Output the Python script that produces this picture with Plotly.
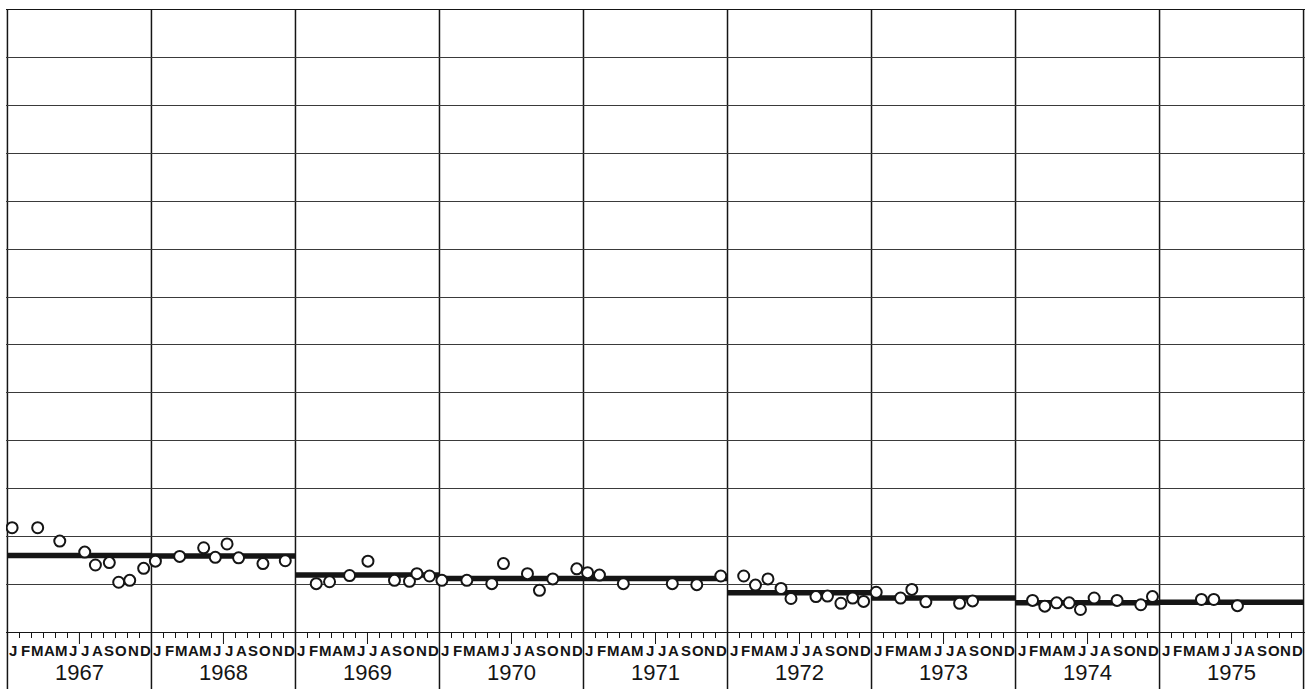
import plotly.graph_objects as go

# ---- data (grid units; each horizontal grid line = 1 unit) ----
years = [1967, 1968, 1969, 1970, 1971, 1972, 1973, 1974, 1975]
month_letters = ["J", "F", "M", "A", "M", "J", "J", "A", "S", "O", "N", "D"]
annual_mean = [1.60, 1.59, 1.19, 1.12, 1.12, 0.82, 0.71, 0.61, 0.62]

# sampling position within the year (in months, 0-12) and observed value
obs_1967_m = [0.39, 2.52, 4.36, 6.44, 7.33, 8.49, 9.27, 10.19, 11.35]
obs_1967_v = [2.18, 2.18, 1.90, 1.67, 1.40, 1.45, 1.04, 1.08, 1.33]
obs_1968_m = [0.33, 2.35, 4.35, 5.32, 6.30, 7.26, 9.29, 11.15]
obs_1968_v = [1.48, 1.58, 1.76, 1.56, 1.84, 1.55, 1.43, 1.49]
obs_1969_m = [1.73, 2.84, 4.51, 6.04, 8.25, 9.50, 10.12, 11.17]
obs_1969_v = [1.01, 1.05, 1.18, 1.48, 1.08, 1.06, 1.22, 1.17]
obs_1970_m = [0.20, 2.28, 4.36, 5.33, 7.33, 8.33, 9.44, 11.44]
obs_1970_v = [1.08, 1.08, 1.01, 1.43, 1.22, 0.87, 1.11, 1.32]
obs_1971_m = [0.34, 1.33, 3.32, 7.40, 9.44, 11.44]
obs_1971_v = [1.24, 1.19, 1.01, 1.01, 0.99, 1.17]
obs_1972_m = [1.35, 2.33, 3.37, 4.46, 5.29, 7.37, 8.33, 9.45, 10.43, 11.34]
obs_1972_v = [1.17, 0.98, 1.11, 0.91, 0.70, 0.74, 0.75, 0.60, 0.71, 0.64]
obs_1973_m = [0.39, 2.42, 3.36, 4.53, 7.34, 8.42]
obs_1973_v = [0.83, 0.71, 0.89, 0.63, 0.60, 0.65]
obs_1974_m = [1.42, 2.44, 3.42, 4.47, 5.41, 6.55, 8.46, 10.44, 11.41]
obs_1974_v = [0.66, 0.54, 0.61, 0.61, 0.47, 0.71, 0.66, 0.57, 0.74]
obs_1975_m = [3.49, 4.52, 6.49]
obs_1975_v = [0.68, 0.68, 0.55]

obs_months = [obs_1967_m, obs_1968_m, obs_1969_m, obs_1970_m, obs_1971_m,
              obs_1972_m, obs_1973_m, obs_1974_m, obs_1975_m]
obs_values = [obs_1967_v, obs_1968_v, obs_1969_v, obs_1970_v, obs_1971_v,
              obs_1972_v, obs_1973_v, obs_1974_v, obs_1975_v]

# ---- build traces ----
px_, py_ = [], []
for yr, ms, vs in zip(years, obs_months, obs_values):
    for m, v in zip(ms, vs):
        px_.append(yr + m / 12.0)
        py_.append(v)

mx, my = [], []
for yr, mv in zip(years, annual_mean):
    mx += [yr, yr + 1, None]
    my += [mv, mv, None]

INK = "#151515"
FONT = "Liberation Sans, Arial, Helvetica, sans-serif"

fig = go.Figure()
fig.add_trace(go.Scatter(x=mx, y=my, mode="lines",
                         line=dict(color=INK, width=5.5), hoverinfo="skip"))
fig.add_trace(go.Scatter(x=px_, y=py_, mode="markers",
                         marker=dict(symbol="circle", size=11, color="white",
                                     line=dict(color=INK, width=2))))

H_PLOT = 622.0
label_gap = 57.0 / H_PLOT

# month boundary ticks (short), excluding year and mid-year boundaries
month_ticks = [yr + k / 12.0 for yr in years for k in range(1, 12) if k != 6]

shapes = []
for yr in years + [years[-1] + 1]:
    shapes.append(dict(type="line", xref="x", yref="paper", x0=yr, x1=yr,
                       y0=-label_gap, y1=1, layer="between",
                       line=dict(color=INK, width=1.5)))
for yr in years:
    shapes.append(dict(type="line", xref="x", yref="paper", x0=yr + 0.5, x1=yr + 0.5,
                       y0=-12 / H_PLOT, y1=0, line=dict(color=INK, width=1)))

annotations = []
for yr in years:
    for i, letter in enumerate(month_letters):
        annotations.append(dict(x=yr + (i + 0.5) / 12.0, y=-18.5 / H_PLOT,
                                xref="x", yref="paper", text="<b>" + letter + "</b>",
                                showarrow=False, xanchor="center", yanchor="middle",
                                font=dict(family=FONT, size=15, color=INK)))
    annotations.append(dict(x=yr + 0.5, y=-41 / H_PLOT, xref="x", yref="paper",
                            text=str(yr), showarrow=False, xanchor="center",
                            yanchor="middle",
                            font=dict(family=FONT, size=22, color=INK)))

fig.update_layout(
    width=1310, height=689,
    margin=dict(l=6, r=5, t=10, b=57),
    paper_bgcolor="white", plot_bgcolor="white",
    showlegend=False,
    shapes=shapes, annotations=annotations,
    xaxis=dict(range=[1966.99, 1976.01], showgrid=False, zeroline=False,
               showline=True, mirror=True, linecolor=INK, linewidth=1.3,
               tickmode="array", tickvals=month_ticks, ticks="outside",
               ticklen=5, tickwidth=1, tickcolor=INK, showticklabels=False),
    yaxis=dict(range=[0, 13], tick0=0, dtick=1, showgrid=True,
               gridcolor="#3a3a3a", gridwidth=1, zeroline=False,
               showline=False, showticklabels=False, ticks=""),
)

fig.write_html("out.html",
               config={"displayModeBar": False},
               post_script="document.body.style.margin='0';"
                           "document.body.style.overflow='hidden';")
